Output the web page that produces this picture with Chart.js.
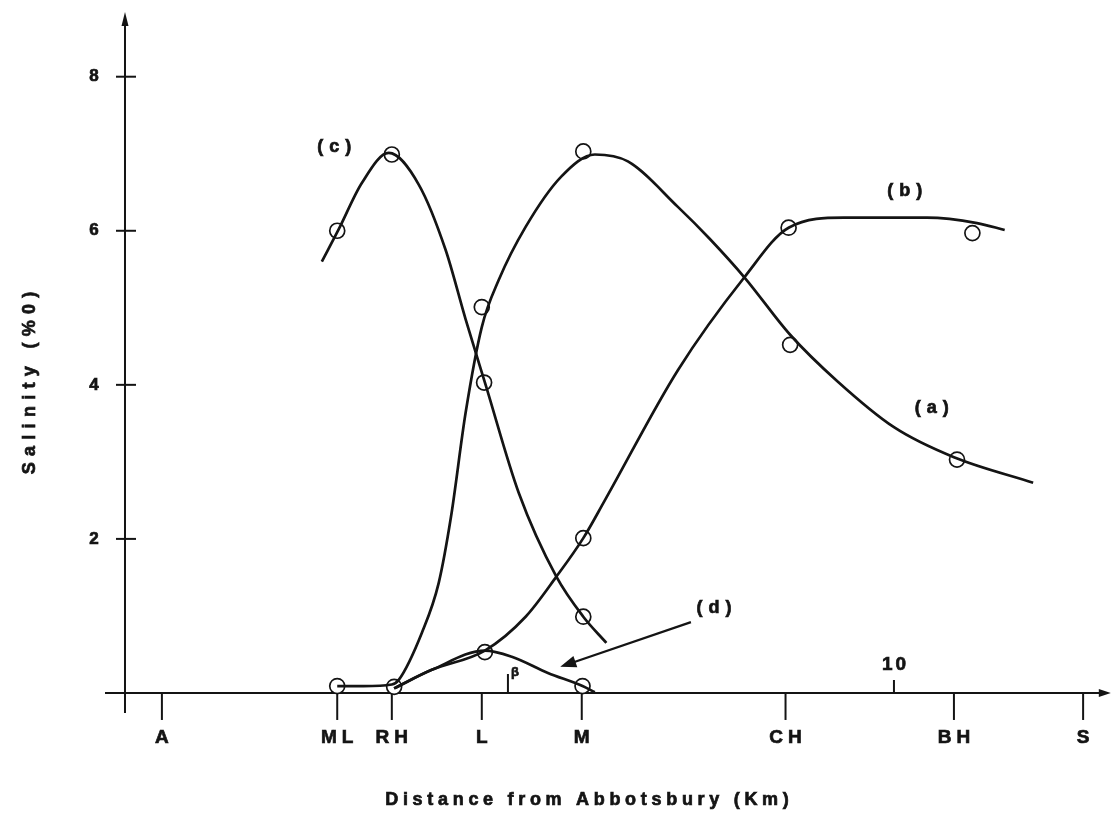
<!DOCTYPE html>
<html>
<head>
<meta charset="utf-8">
<script src="https://cdn.jsdelivr.net/npm/chart.js@4.4.0/dist/chart.umd.min.js"></script>
<style>
  body { margin: 0; background: #fff; }
</style>
</head>
<body>
<canvas id="salinityChart" width="1120" height="813"></canvas>
<script>
// stations, km from Abbotsbury
const stationNames = ['A', 'ML', 'RH', 'L', 'M', 'CH', 'BH', 'S'];
const stationKm = [0.48, 2.76, 3.47, 4.64, 5.94, 8.59, 10.78, 12.46];
const kmTicks = [10];
const yTicks = [2, 4, 6, 8];

// hand drawn curves
const curveAx = [2.76, 3.1, 3.47, 3.56, 3.86, 4.08, 4.24, 4.43, 4.64, 4.86, 5.21, 5.67, 6.11, 6.54, 7.19, 7.6, 8.06, 8.65, 9.26, 10.0, 10.78, 11.81];
const curveAy = [0.09, 0.09, 0.11, 0.17, 0.78, 1.43, 2.29, 3.64, 4.75, 5.36, 6.05, 6.7, 6.99, 6.9, 6.31, 5.9, 5.39, 4.65, 4.05, 3.45, 3.06, 2.73];

const curveBx = [3.5, 3.99, 4.68, 5.21, 5.61, 5.96, 6.24, 7.19, 8.05, 8.63, 9.35, 10.43, 11.08, 11.44];
const curveBy = [0.06, 0.3, 0.55, 0.99, 1.51, 2.01, 2.5, 4.19, 5.39, 6.04, 6.17, 6.17, 6.1, 6.01];

const curveCx = [2.56, 2.78, 3.08, 3.43, 3.82, 4.17, 4.43, 4.69, 5.12, 5.61, 5.96, 6.26];
const curveCy = [5.6, 6.02, 6.62, 7.01, 6.6, 5.75, 4.85, 4.0, 2.6, 1.51, 0.99, 0.65];

const curveDx = [3.5, 3.99, 4.68, 5.03, 5.5, 5.95, 6.11];
const curveDy = [0.06, 0.3, 0.55, 0.47, 0.26, 0.09, 0.01];

// observed values (open circles)
const obsAx = [2.76, 3.5, 4.64, 5.96, 8.65, 10.82];
const obsAy = [0.09, 0.08, 5.01, 7.03, 4.52, 3.03];
const obsBx = [4.68, 5.96, 8.63, 11.02];
const obsBy = [0.53, 2.01, 6.04, 5.97];
const obsCx = [2.76, 3.47, 4.67, 5.96];
const obsCy = [6.0, 6.99, 4.03, 0.99];
const obsDx = [5.95];
const obsDy = [0.09];

// curve labels
const curveLabels = ['(a)', '(b)', '(c)', '(d)'];
const labelX = [10.49, 10.14, 2.72, 7.66];
const labelY = [3.70, 6.52, 7.09, 1.10];

const ink = '#141414';
const font = '"Liberation Sans", Arial, sans-serif';

function pts(xs, ys) {
    return xs.map((v, i) => ({ x: v, y: ys[i] }));
}

function curve(xs, ys) {
    return {
        data: pts(xs, ys),
        showLine: true,
        borderColor: ink,
        borderWidth: 2.7,
        pointRadius: 0,
        cubicInterpolationMode: 'monotone',
        fill: false,
    };
}

function obs(xs, ys) {
    return {
        data: pts(xs, ys),
        showLine: false,
        pointRadius: 7.5,
        pointBorderWidth: 1.7,
        pointBorderColor: ink,
        pointBackgroundColor: '#fff',
    };
}

// heavy, spaced text like the typed original
function text(ctx, str, x, y, size, spacing) {
    ctx.font = 'bold ' + size + 'px ' + font;
    ctx.letterSpacing = spacing + 'px';
    ctx.lineWidth = 0.7;
    ctx.fillText(str, x + spacing / 2, y);
    ctx.strokeText(str, x + spacing / 2, y);
}

const handAxes = {
    id: 'handAxes',
    beforeDatasetsDraw(chart) {
        const { ctx, scales: { x, y } } = chart;
        const x0 = x.getPixelForValue(0);
        const y0 = y.getPixelForValue(0);
        ctx.save();
        ctx.strokeStyle = ink;
        ctx.fillStyle = ink;
        ctx.lineWidth = 2;

        // x axis with arrow
        ctx.beginPath();
        ctx.moveTo(x.left, y0);
        ctx.lineTo(x.right - 6, y0);
        ctx.stroke();
        ctx.beginPath();
        ctx.moveTo(x.right, y0);
        ctx.lineTo(x.right - 12, y0 - 4);
        ctx.lineTo(x.right - 12, y0 + 4);
        ctx.closePath();
        ctx.fill();

        // y axis with arrow
        ctx.beginPath();
        ctx.moveTo(x0, y.bottom);
        ctx.lineTo(x0, y.top + 6);
        ctx.stroke();
        ctx.beginPath();
        ctx.moveTo(x0, y.top);
        ctx.lineTo(x0 - 3.5, y.top + 14);
        ctx.lineTo(x0 + 3.5, y.top + 14);
        ctx.closePath();
        ctx.fill();

        ctx.textAlign = 'center';
        ctx.textBaseline = 'middle';

        // y ticks
        yTicks.forEach(v => {
            const py = y.getPixelForValue(v);
            ctx.lineWidth = 2;
            ctx.beginPath();
            ctx.moveTo(x0 - 9, py);
            ctx.lineTo(x0 + 11, py);
            ctx.stroke();
            text(ctx, String(v), x0 - 31, py, 17, 0);
        });

        // station ticks below the axis
        stationNames.forEach((name, i) => {
            const px = x.getPixelForValue(stationKm[i]);
            ctx.lineWidth = 2;
            ctx.beginPath();
            ctx.moveTo(px, y0);
            ctx.lineTo(px, y0 + 27);
            ctx.stroke();
            text(ctx, name, px, y0 + 45, 19, 5);
        });

        // km ticks above the axis
        kmTicks.forEach(v => {
            const px = x.getPixelForValue(v);
            ctx.lineWidth = 2;
            ctx.beginPath();
            ctx.moveTo(px, y0);
            ctx.lineTo(px, y0 - 13);
            ctx.stroke();
            text(ctx, String(v), px, y0 - 28, 19, 3);
        });

        // small mark near L
        const bx = x.getPixelForValue(4.98);
        ctx.lineWidth = 2;
        ctx.beginPath();
        ctx.moveTo(bx, y0);
        ctx.lineTo(bx, y0 - 19);
        ctx.stroke();
        text(ctx, 'β', bx + 7, y0 - 21, 13, 0);
        ctx.restore();
    },
    afterDraw(chart) {
        const { ctx, scales: { x, y } } = chart;
        ctx.save();
        ctx.fillStyle = ink;
        ctx.strokeStyle = ink;
        ctx.textAlign = 'center';
        ctx.textBaseline = 'middle';

        curveLabels.forEach((lab, i) => {
            text(ctx, lab, x.getPixelForValue(labelX[i]), y.getPixelForValue(labelY[i]), 18, 6);
        });

        // arrow pointing at curve (d)
        const ax1 = x.getPixelForValue(7.36), ay1 = y.getPixelForValue(0.92);
        const ax2 = x.getPixelForValue(5.66), ay2 = y.getPixelForValue(0.34);
        const ang = Math.atan2(ay2 - ay1, ax2 - ax1);
        ctx.lineWidth = 2.2;
        ctx.beginPath();
        ctx.moveTo(ax1, ay1);
        ctx.lineTo(ax2 - 8 * Math.cos(ang), ay2 - 8 * Math.sin(ang));
        ctx.stroke();
        ctx.beginPath();
        ctx.moveTo(ax2, ay2);
        ctx.lineTo(ax2 - 16 * Math.cos(ang) + 6 * Math.sin(ang), ay2 - 16 * Math.sin(ang) - 6 * Math.cos(ang));
        ctx.lineTo(ax2 - 16 * Math.cos(ang) - 6 * Math.sin(ang), ay2 - 16 * Math.sin(ang) + 6 * Math.cos(ang));
        ctx.closePath();
        ctx.fill();

        // axis titles
        text(ctx, 'Distance from Abbotsbury (Km)', 587, 800, 18, 4.7);
        ctx.translate(30, 383);
        ctx.rotate(-Math.PI / 2);
        text(ctx, 'Salinity (%0)', 0, 0, 18, 6.3);
        ctx.restore();
    },
};

const config = {
    type: 'scatter',
    data: {
        datasets: [
            curve(curveAx, curveAy),
            curve(curveBx, curveBy),
            curve(curveCx, curveCy),
            curve(curveDx, curveDy),
            obs(obsAx, obsAy),
            obs(obsBx, obsBy),
            obs(obsCx, obsCy),
            obs(obsDx, obsDy),
        ],
    },
    options: {
        responsive: false,
        animation: false,
        layout: {
            padding: { left: 105, right: 5, top: 12, bottom: 100 },
        },
        scales: {
            x: { type: 'linear', min: -0.26, max: 12.82, display: false },
            y: { type: 'linear', min: -0.26, max: 8.84, display: false },
        },
        plugins: {
            legend: { display: false },
            tooltip: { enabled: false },
        },
    },
    plugins: [handAxes],
};

var ctx = document.getElementById('salinityChart').getContext('2d');
var salinityChart = new Chart(ctx, config);
</script>
</body>
</html>
